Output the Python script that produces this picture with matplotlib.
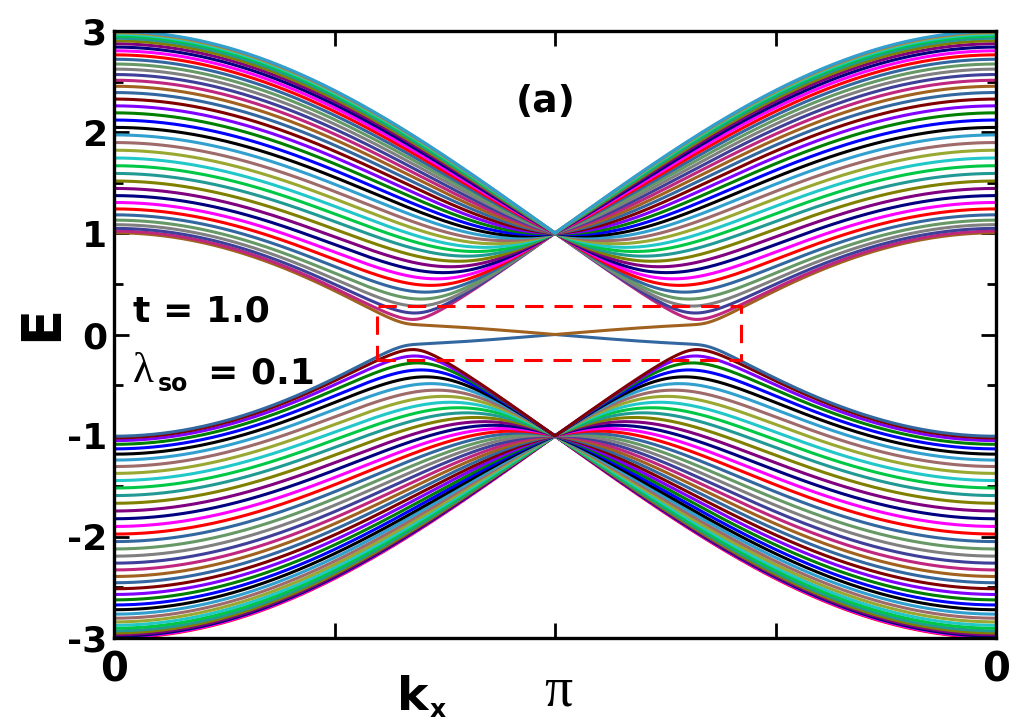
import numpy as np
import matplotlib
matplotlib.use("Agg")
import matplotlib.pyplot as plt
from matplotlib.ticker import FixedLocator, MultipleLocator

plt.rcParams['axes.unicode_minus'] = False

# parameters written on the chart (zigzag ribbon, one spin sector)
t_hop = 1.0
lambda_so = 0.1
n_chains = 40          # 2*n_chains bands
n_k = 801

# colour cycle of the bands, first entry = first band above E=0
band_colors = ['#a0621e', '#c0267e', '#3f3f9a', '#808080', '#669966', '#3367a0',
               '#ff0000', '#ff00ff', '#000080', '#800080', '#808000', '#229a94',
               '#00c846', '#22c8c8', '#98a830', '#9e6a6a', '#31a0cf', '#000000',
               '#0000ff', '#008000', '#8000ff', '#800000', '#3367a0']

x_ticks = [0, np.pi / 2, np.pi, 3 * np.pi / 2, 2 * np.pi]
x_tick_labels = ['0', '', '', '', '0']
y_ticks = [-3, -2, -1, 0, 1, 2, 3]

# dashed box round the edge states
box_k = [1.87, 4.47]
box_E = [-0.25, 0.28]


def ribbon_bands(k_vals, n, t, lam):
    """Eigenvalues of a zigzag honeycomb ribbon with Kane-Mele SO (spin up)"""
    b = 1 / np.sqrt(3)
    pos = []
    for i in range(n):
        a = np.array([0.5 * i, 1.5 * b * i])
        pos.append(a)
        pos.append(a + np.array([0.5, 0.5 * b]))
    pos = np.array(pos)
    ns = len(pos)
    lam_eff = lam / (3 * np.sqrt(3))
    shifts = range(-2, 3)
    terms = []
    for i in range(ns):
        for j in range(ns):
            for m in shifts:
                d = pos[j] + [m, 0] - pos[i]
                dist = np.hypot(*d)
                if abs(dist - b) < 1e-6:
                    terms.append((i, j, m, -t))
                elif abs(dist - 1) < 1e-6:
                    # find the common neighbour to get the sign nu_ij
                    for l in range(ns):
                        for ml in shifts:
                            d1 = pos[l] + [ml, 0] - pos[i]
                            d2 = pos[j] + [m, 0] - pos[l] - [ml, 0]
                            if abs(np.hypot(*d1) - b) < 1e-6 and abs(np.hypot(*d2) - b) < 1e-6:
                                nu = np.sign(d1[0] * d2[1] - d1[1] * d2[0])
                                terms.append((i, j, m, 1j * lam_eff * nu))
    E = np.zeros((len(k_vals), ns))
    for ik, k in enumerate(k_vals):
        H = np.zeros((ns, ns), dtype=complex)
        for i, j, m, c in terms:
            H[i, j] += c * np.exp(1j * k * m)
        E[ik] = np.linalg.eigvalsh(H)
    return E


kx = np.linspace(0, 2 * np.pi, n_k)
bands = ribbon_bands(kx, n_chains, t_hop, lambda_so)

fig = plt.figure(figsize=(10.17, 7.21), dpi=100)
ax = fig.add_axes([114 / 1017, 1 - 638 / 721, 882 / 1017, 607 / 721])

for ib in range(bands.shape[1]):
    ax.plot(kx, bands[:, ib], color=band_colors[(ib - n_chains) % len(band_colors)],
            lw=2.2, solid_capstyle='butt')

ax.plot([box_k[0], box_k[1], box_k[1], box_k[0], box_k[0]],
        [box_E[0], box_E[0], box_E[1], box_E[1], box_E[0]],
        color='#ff0000', lw=2.2, dashes=(6, 3.6))

ax.set_xlim(0, 2 * np.pi)
ax.set_ylim(-3, 3)
ax.xaxis.set_major_locator(FixedLocator(x_ticks))
ax.set_xticklabels(x_tick_labels)
ax.set_yticks(y_ticks)
ax.yaxis.set_minor_locator(MultipleLocator(0.5))

for s in ax.spines.values():
    s.set_linewidth(2.4)
ax.tick_params(which='both', direction='in', top=True, right=True, width=2)
ax.tick_params(which='major', length=11)
ax.tick_params(which='minor', length=6.5)
ax.tick_params(axis='x', pad=9)
ax.tick_params(axis='y', pad=5)

for lab in ax.get_yticklabels():
    lab.set_fontfamily('DejaVu Sans')
    lab.set_fontweight('bold')
    lab.set_fontsize(26)
for lab in ax.get_xticklabels():
    lab.set_fontfamily('DejaVu Sans')
    lab.set_fontweight('bold')
    lab.set_fontsize(29)

sans = dict(family='DejaVu Sans', weight='bold')
# pi label under the middle tick
ax.text(np.pi, 0, '\u03c0', transform=ax.get_xaxis_transform(), ha='center',
        va='baseline', fontsize=40, family='Liberation Serif')
ax.texts[-1].set_position((np.pi + 0.02, -0.112))

fig.text(41 / 1017, 1 - 323 / 721, 'E', rotation=90, ha='center', va='center',
         fontsize=38, **sans)
fig.text(397 / 1017, 1 - 710 / 721, 'k', ha='left', va='baseline', fontsize=34, **sans)
fig.text(430 / 1017, 1 - 717 / 721, 'x', ha='left', va='baseline', fontsize=18, **sans)

fig.text(546 / 1017, 1 - 112 / 721, '(a)', ha='center', va='baseline', fontsize=27, **sans)
fig.text(133 / 1017, 1 - 321 / 721, 't = 1.0', ha='left', va='baseline', fontsize=26, **sans)
fig.text(133 / 1017, 1 - 382 / 721, '\u03bb', ha='left', va='baseline', fontsize=31,
         family='Liberation Serif')
fig.text(158 / 1017, 1 - 391 / 721, 'so', ha='left', va='baseline', fontsize=17, **sans)
fig.text(208 / 1017, 1 - 383 / 721, '= 0.1', ha='left', va='baseline', fontsize=26, **sans)

fig.savefig('out.png', dpi=100)
